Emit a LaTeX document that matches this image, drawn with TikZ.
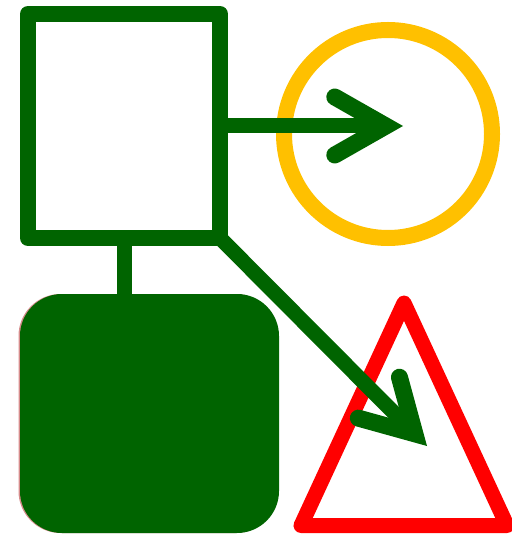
\documentclass[tikz,border=0pt]{standalone}
\usetikzlibrary{arrows.meta}
\definecolor{leafgreen}{RGB}{0,100,0}
\definecolor{ringgold}{RGB}{255,192,0}
\definecolor{boxedge}{RGB}{214,140,140}
\begin{document}
\begin{tikzpicture}[x=1pt,y=-1pt,
    link/.style={draw=leafgreen,line width=15pt},
    pointer/.style={link,-{Straight Barb[length=51pt,width=58pt,line width=17pt,line cap=round]}}]
  \useasboundingbox (0,0) rectangle (511,534);
  % square, ring and the filled box
  \node[draw=leafgreen,line width=16pt,line join=round,outer sep=0pt,inner sep=0pt,
        minimum width=192pt,minimum height=224pt] (sq) at (124,126) {};
  \node[draw=ringgold,circle,line width=16pt,outer sep=0pt,inner sep=0pt,
        minimum size=208pt] (ring) at (388,134) {};
  \node[fill=leafgreen,rounded corners=42pt,inner sep=0pt,
        preaction={fill=boxedge,transform canvas={xshift=-1.5pt}},
        minimum width=259pt,minimum height=239pt] (box) at (149.5,413.5) {};
  % warning triangle
  \coordinate (apex) at (404,303);
  \coordinate (tipA) at (403,126);
  \coordinate (tipB) at (427,446);
  \draw[red,line width=15pt,line join=round] (apex) -- (301,525.5) -- (507,525.5) -- cycle;
  % connectors
  \draw[link] (sq.south) -- (sq.south |- box.north);
  \draw[pointer] (sq.east) -- (tipA);
  \draw[pointer] (sq.south east) -- (tipB);
\end{tikzpicture}
\end{document}
